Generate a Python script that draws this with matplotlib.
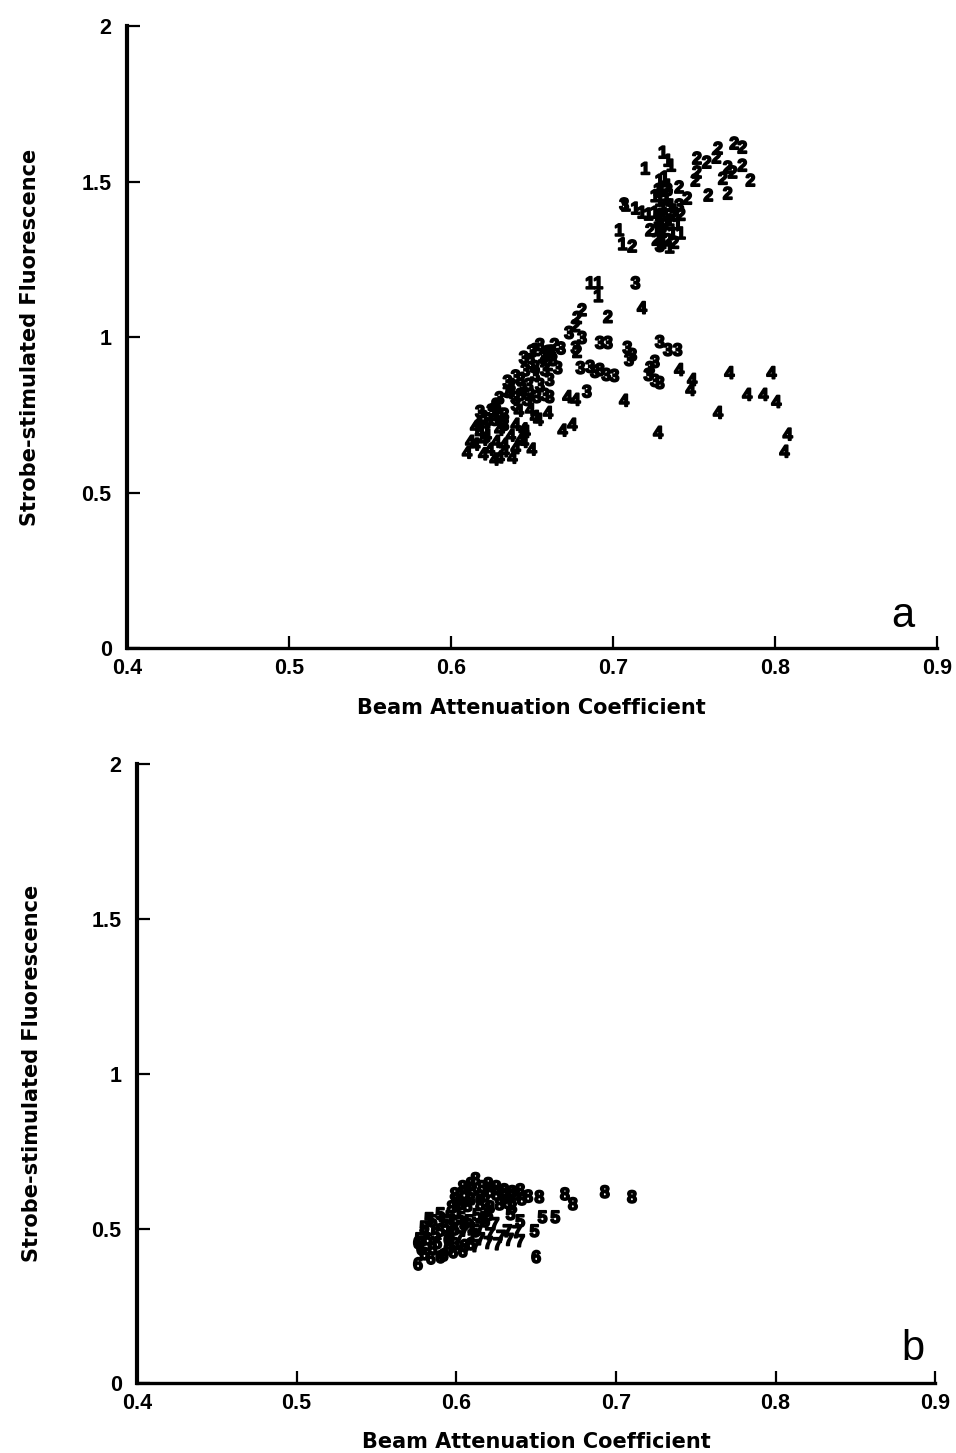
import matplotlib
matplotlib.use("Agg")
import matplotlib.pyplot as plt
import matplotlib.patheffects as pe

# ---------------- Panel a data (label = group number) ----------------
a1_x = [0.720, 0.731, 0.734, 0.736, 0.708, 0.714, 0.718, 0.722, 0.726, 0.704, 0.706,
        0.729, 0.730, 0.729, 0.731, 0.728, 0.730, 0.733, 0.734, 0.727, 0.731, 0.735, 0.738,
        0.728, 0.733, 0.736, 0.729, 0.733, 0.737, 0.730, 0.735, 0.740, 0.742, 0.726, 0.732,
        0.686, 0.691, 0.691]
a1_y = [1.538, 1.590, 1.564, 1.548, 1.420, 1.410, 1.397, 1.391, 1.397, 1.340, 1.295,
        1.500, 1.468, 1.436, 1.410, 1.378, 1.353, 1.452, 1.484, 1.340, 1.314, 1.372, 1.404,
        1.470, 1.440, 1.420, 1.390, 1.360, 1.330, 1.300, 1.285, 1.360, 1.330, 1.450, 1.510,
        1.170, 1.170, 1.128]

a2_x = [0.752, 0.758, 0.764, 0.765, 0.775, 0.780, 0.752, 0.751, 0.768, 0.771, 0.774,
        0.780, 0.785, 0.771, 0.759, 0.741, 0.746, 0.731, 0.734, 0.723, 0.712, 0.738,
        0.738, 0.742, 0.727,
        0.681, 0.678, 0.697, 0.677, 0.678, 0.664, 0.658, 0.652, 0.660]
a2_y = [1.571, 1.558, 1.574, 1.603, 1.619, 1.606, 1.526, 1.500, 1.506, 1.542, 1.526,
        1.548, 1.500, 1.458, 1.452, 1.478, 1.442, 1.340, 1.308, 1.340, 1.288, 1.388,
        1.300, 1.390, 1.310,
        1.083, 1.058, 1.061, 1.032, 0.949, 0.971, 0.939, 0.955, 0.907]

a3_x = [0.707, 0.730, 0.734, 0.729, 0.734, 0.729, 0.741, 0.714,
        0.673, 0.681, 0.677, 0.680, 0.686, 0.689, 0.684, 0.649, 0.635, 0.635, 0.643,
        0.653, 0.661, 0.647, 0.628, 0.618, 0.623, 0.692, 0.697, 0.709, 0.712, 0.710,
        0.729, 0.734, 0.740, 0.726, 0.723, 0.722, 0.726, 0.729, 0.696, 0.692, 0.701,
        0.655, 0.660, 0.663, 0.658, 0.652, 0.655, 0.661, 0.666, 0.648, 0.643, 0.640,
        0.649, 0.658, 0.633, 0.627, 0.633,
        0.650, 0.645, 0.657, 0.646, 0.640, 0.652, 0.637, 0.644, 0.630, 0.640, 0.625,
        0.620, 0.662, 0.668]
a3_y = [1.423, 1.388, 1.420, 1.290, 1.470, 1.360, 1.420, 1.170,
        1.010, 0.994, 0.962, 0.897, 0.901, 0.885, 0.821, 0.913, 0.853, 0.821, 0.859,
        0.804, 0.804, 0.795, 0.779, 0.756, 0.731, 0.978, 0.978, 0.962, 0.939, 0.923,
        0.981, 0.955, 0.955, 0.917, 0.897, 0.875, 0.856, 0.849, 0.875, 0.891, 0.872,
        0.971, 0.949, 0.923, 0.891, 0.875, 0.843, 0.859, 0.897, 0.843, 0.811, 0.779,
        0.811, 0.811, 0.747, 0.731, 0.715,
        0.950, 0.930, 0.930, 0.890, 0.870, 0.900, 0.840, 0.830, 0.800, 0.800, 0.760,
        0.740, 0.950, 0.960]

a4_x = [0.772, 0.798, 0.783, 0.793, 0.801, 0.765, 0.808, 0.806, 0.741, 0.749, 0.748,
        0.728, 0.707, 0.718, 0.672, 0.677, 0.669, 0.675,
        0.610, 0.615, 0.620, 0.627, 0.638, 0.650, 0.643, 0.660, 0.654, 0.615, 0.626,
        0.636, 0.630, 0.624, 0.633, 0.646, 0.640, 0.649, 0.621, 0.630,
        0.612, 0.618, 0.622, 0.628, 0.633, 0.640, 0.645, 0.637, 0.632, 0.627, 0.620,
        0.630, 0.645, 0.652, 0.642, 0.617]
a4_y = [0.881, 0.881, 0.811, 0.811, 0.788, 0.753, 0.683, 0.628, 0.891, 0.859, 0.827,
        0.689, 0.792, 1.090, 0.804, 0.795, 0.696, 0.715,
        0.625, 0.651, 0.667, 0.603, 0.609, 0.635, 0.667, 0.753, 0.731, 0.708, 0.772,
        0.817, 0.699, 0.635, 0.651, 0.692, 0.715, 0.763, 0.715, 0.747,
        0.660, 0.690, 0.680, 0.660, 0.630, 0.640, 0.660, 0.680, 0.720, 0.740, 0.620,
        0.610, 0.700, 0.740, 0.760, 0.720]

# ---------------- Panel b data ----------------
b5_x = [0.583, 0.590, 0.596, 0.593, 0.587, 0.599, 0.605, 0.612, 0.618, 0.577,
        0.580, 0.585, 0.592, 0.598, 0.603, 0.608, 0.613, 0.590, 0.596, 0.580, 0.600, 0.620,
        0.654, 0.662, 0.649, 0.634, 0.640]
b5_y = [0.527, 0.543, 0.533, 0.501, 0.478, 0.494, 0.511, 0.488, 0.520, 0.462,
        0.500, 0.520, 0.520, 0.510, 0.530, 0.520, 0.540, 0.490, 0.470, 0.480, 0.550, 0.540,
        0.533, 0.533, 0.488, 0.543, 0.520]

b6_x = [0.576, 0.580, 0.585, 0.590, 0.595, 0.599, 0.582, 0.604, 0.609,
        0.578, 0.584, 0.592, 0.598, 0.588, 0.576, 0.595, 0.605, 0.650]
b6_y = [0.381, 0.414, 0.430, 0.404, 0.430, 0.446, 0.462, 0.423, 0.446,
        0.430, 0.400, 0.410, 0.420, 0.450, 0.450, 0.460, 0.440, 0.404]

b7_x = [0.615, 0.621, 0.626, 0.632, 0.638, 0.640, 0.609, 0.624, 0.602,
        0.610, 0.605, 0.615, 0.628, 0.633, 0.620, 0.612, 0.618]
b7_y = [0.462, 0.478, 0.446, 0.488, 0.485, 0.456, 0.494, 0.511, 0.468,
        0.470, 0.490, 0.500, 0.470, 0.460, 0.450, 0.440, 0.530]

b8_x = [0.599, 0.604, 0.609, 0.612, 0.616, 0.621, 0.625, 0.630, 0.637, 0.641,
        0.602, 0.609, 0.615, 0.621, 0.627, 0.597, 0.635,
        0.605, 0.610, 0.615, 0.620, 0.625, 0.630, 0.618, 0.607, 0.632, 0.640, 0.645, 0.600,
        0.652, 0.668, 0.673, 0.693, 0.710, 0.635, 0.630]
b8_y = [0.607, 0.630, 0.640, 0.656, 0.630, 0.617, 0.607, 0.598, 0.607, 0.591,
        0.575, 0.591, 0.575, 0.565, 0.575, 0.565, 0.565,
        0.610, 0.620, 0.600, 0.640, 0.630, 0.620, 0.585, 0.570, 0.580, 0.620, 0.600, 0.590,
        0.598, 0.607, 0.575, 0.614, 0.598, 0.614, 0.617]

x_ticks = [0.4, 0.5, 0.6, 0.7, 0.8, 0.9]
x_tick_labels = ["0.4", "0.5", "0.6", "0.7", "0.8", "0.9"]
y_ticks = [0, 0.5, 1, 1.5, 2]
y_tick_labels = ["0", "0.5", "1", "1.5", "2"]
x_label = "Beam Attenuation Coefficient"
y_label = "Strobe-stimulated Fluorescence"

panel_a = [("1", a1_x, a1_y), ("2", a2_x, a2_y), ("3", a3_x, a3_y), ("4", a4_x, a4_y)]
panel_b = [("5", b5_x, b5_y), ("6", b6_x, b6_y), ("7", b7_x, b7_y), ("8", b8_x, b8_y)]

plt.rcParams['font.family'] = ['Liberation Sans', 'DejaVu Sans']

fig = plt.figure(figsize=(9.56, 14.53), dpi=100)
ax_a = fig.add_axes([0.1328, 0.554, 0.847, 0.428])
ax_b = fig.add_axes([0.1433, 0.048, 0.835, 0.426])

ink = [pe.withStroke(linewidth=1.3, foreground="black")]
label_font = dict(fontsize=15, family=["DejaVu Sans"], fontweight="bold")


def style(ax, letter, lx, ly, ylpad, xlpad):
    ax.set_xlim(0.4, 0.9)
    ax.set_ylim(0, 2)
    for s in ("top", "right"):
        ax.spines[s].set_visible(False)
    ax.spines["left"].set_linewidth(3.0)
    ax.spines["bottom"].set_linewidth(2.4)
    ax.set_xticks(x_ticks)
    ax.set_yticks(y_ticks)
    ax.tick_params(direction="in", length=9, width=1.6)
    ax.tick_params(axis="x", pad=7)
    ax.tick_params(axis="y", pad=11)
    ax.set_xticklabels(x_tick_labels, fontsize=15.5, fontweight="bold",
                       family=["Liberation Sans"])
    ax.set_yticklabels(y_tick_labels, fontsize=15.5, fontweight="bold",
                       family=["Liberation Sans"])
    ax.set_xlabel(x_label, labelpad=xlpad, **label_font)
    ax.set_ylabel(y_label, labelpad=ylpad, **label_font)
    ax.text(lx, ly, letter, transform=ax.transAxes, fontsize=30,
            ha="center", va="center")


def draw(ax, groups):
    for lab, xs, ys in groups:
        for x, y in zip(xs, ys):
            ax.text(x, y, lab, fontsize=12.5, fontweight="bold",
                    ha="center", va="center", color="black", path_effects=ink)


draw(ax_a, panel_a)
draw(ax_b, panel_b)
style(ax_a, "a", 0.958, 0.052, 30, 14)
style(ax_b, "b", 0.972, 0.056, 36, 13)

fig.savefig("out.png", dpi=100)
